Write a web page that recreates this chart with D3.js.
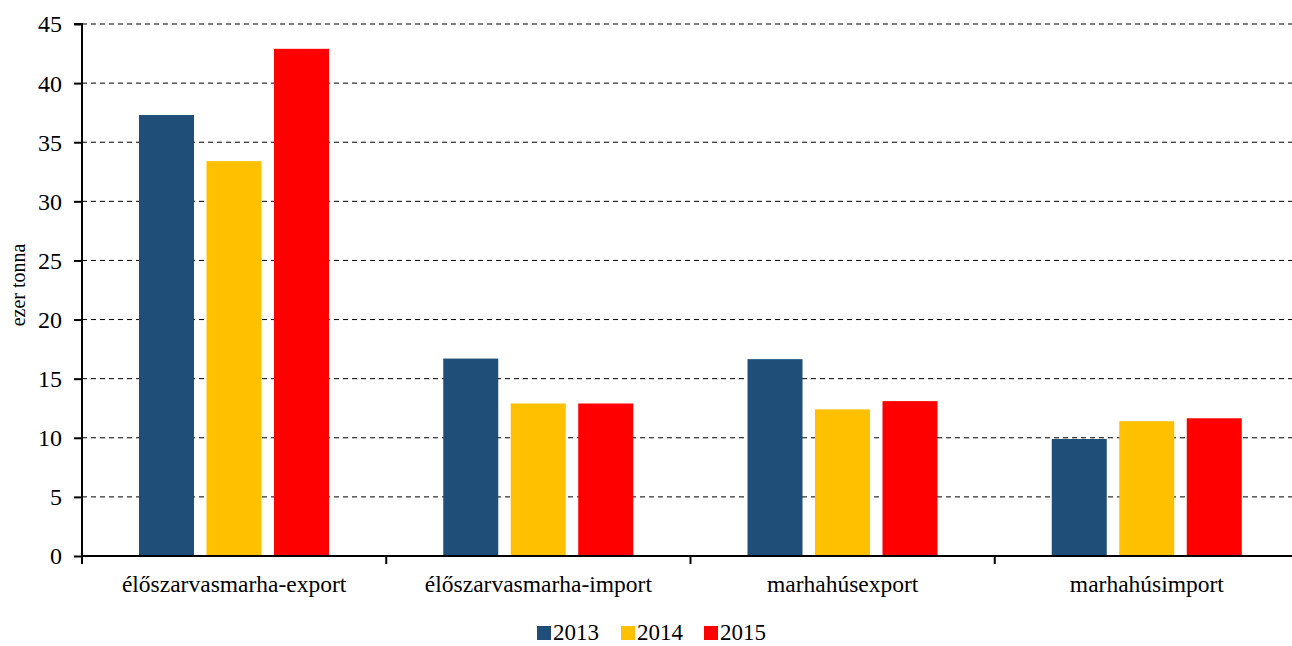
<!DOCTYPE html>
<html><head><meta charset="utf-8">
<script src="https://cdn.jsdelivr.net/npm/d3@7"></script>
<style>body{margin:0;background:#fff}svg{display:block}</style>
</head><body>
<svg id="c" width="1292" height="646"></svg>
<script>
const categories = ["élőszarvasmarha-export","élőszarvasmarha-import","marhahúsexport","marhahúsimport"];
const years = ["2013","2014","2015"];
const v2013 = [37.3, 16.7, 16.65, 9.9];
const v2014 = [33.4, 12.9, 12.4, 11.4];
const v2015 = [42.9, 12.9, 13.1, 11.65];
const colors = ["#1F4E79","#FFC000","#FF0000"];
const yTicks = [0,5,10,15,20,25,30,35,40,45];

const FONT = "'Liberation Serif', 'Times New Roman', 'DejaVu Serif', serif";
const series = [v2013, v2014, v2015];
const svg = d3.select("#c").style("font-family", FONT);
const L = 82, R = 1299, T = 24, B = 556;
const x0 = d3.scaleBand().domain(categories).range([L, R]).padding(0);
const x1 = d3.scaleBand().domain(years).range([57/304.25*x0.bandwidth(), 247/304.25*x0.bandwidth()]).paddingInner(0.185);
const y = d3.scaleLinear().domain([0,45]).range([B, T]);

// grid
svg.append("g").selectAll("line").data(yTicks.filter(d=>d>0)).join("line")
  .attr("x1", L).attr("x2", R).attr("y1", d=>y(d)).attr("y2", d=>y(d))
  .attr("stroke","#000").attr("stroke-width",1).attr("stroke-dasharray","5,4");

// bars
const g = svg.append("g");
categories.forEach((c,i)=>{
  years.forEach((yr,j)=>{
    g.append("rect").attr("x", x0(c)+x1(yr)).attr("width", x1.bandwidth())
      .attr("y", y(series[j][i])).attr("height", B - y(series[j][i]))
      .attr("fill", colors[j]);
  });
});

// y axis
const ya = d3.axisLeft(y).tickValues(yTicks).tickSize(8).tickPadding(12);
const yg = svg.append("g").attr("transform",`translate(${L},0)`).call(ya).attr("font-family", null).attr("font-size", null);
yg.select(".domain").attr("stroke","#000").attr("stroke-width",2).attr("d",`M-8,${T}H0V${B}`);
yg.selectAll(".tick line").attr("stroke","#000").attr("stroke-width",2);
yg.selectAll("text").style("font-family", FONT).style("font-size","24px").attr("dy","0.33em").attr("fill","#000");

// x axis
const xa = d3.axisBottom(x0).tickSize(0).tickPadding(19);
const xg = svg.append("g").attr("transform",`translate(0,${B})`).call(xa).attr("font-family", null).attr("font-size", null);
xg.select(".domain").attr("stroke","#000").attr("stroke-width",2).attr("d",`M${L},0H${R}`);
xg.selectAll("text").style("font-family", FONT).style("font-size","23.5px").attr("fill","#000");
const bounds = categories.map(c=>x0(c));
xg.selectAll(".bt").data(bounds).join("line").attr("class","bt")
  .attr("x1",d=>d).attr("x2",d=>d).attr("y1",0).attr("y2",8).attr("stroke","#000").attr("stroke-width",2);

// y title
svg.append("text").attr("transform",`translate(25,285) rotate(-90)`).attr("text-anchor","middle")
  .style("font-family", FONT).style("font-size","20px").text("ezer tonna");

// legend
const lg = svg.append("g");
const lx = [537, 621, 704];
years.forEach((yr,j)=>{
  lg.append("rect").attr("x",lx[j]).attr("y",626).attr("width",14).attr("height",14).attr("fill",colors[j]);
  lg.append("text").attr("x",lx[j]+16).attr("y",640).style("font-family", FONT).style("font-size","23px").text(yr);
});
</script>
</body></html>
